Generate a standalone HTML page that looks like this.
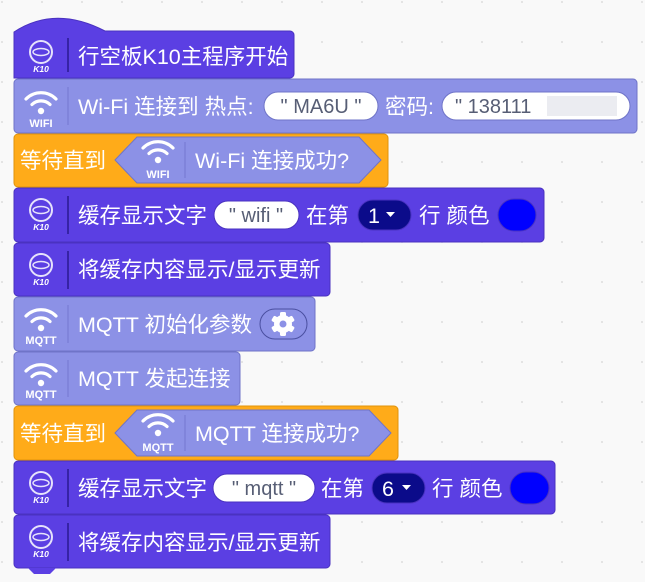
<!DOCTYPE html>
<html><head><meta charset="utf-8"><style>
html,body{margin:0;padding:0;background:#f9f9f9;}
svg{display:block;}
text{font-family:"Liberation Sans","Noto Sans CJK SC",sans-serif;}
.t{font-size:21.5px;fill:#fff;}
.d{font-size:20px;fill:#575e75;}
</style></head><body>
<svg width="645" height="582" viewBox="0 0 645 582" xmlns="http://www.w3.org/2000/svg">
<defs>
<pattern id="dots" width="40" height="40" patternUnits="userSpaceOnUse"><circle cx="2" cy="2" r="1" fill="#ddd"/></pattern>
<g id="k10">
<circle cx="0" cy="0" r="11" fill="none" stroke="#fff" stroke-width="2" opacity="0.85"/>
<ellipse cx="0" cy="0" rx="8" ry="3.5" fill="none" stroke="#fff" stroke-width="1.5" opacity="0.85"/>
<text x="0" y="20" text-anchor="middle" style="font-size:8.5px;font-weight:bold;font-style:italic;fill:#fff">K10</text>
</g>
<g id="wifi">
<path d="M-15,-6 A21,21 0 0 1 15,-6" fill="none" stroke="#fff" stroke-width="3.2" stroke-linecap="round"/>
<path d="M-9,-0.5 A13,13 0 0 1 9,-0.5" fill="none" stroke="#fff" stroke-width="3.2" stroke-linecap="round"/>
<circle cx="0" cy="6" r="3.2" fill="#fff"/>
</g>
</defs>
<rect width="645" height="582" fill="url(#dots)"/>

<!-- 1 hat -->
<path d="M14,78 V32 Q55,5 105,31 H290 a4,4 0 0 1 4,4 V74 a4,4 0 0 1 -4,4 Z" fill="#5b3fe3" stroke="#4a32c0"/>
<use href="#k10" x="41" y="52"/>
<line x1="68" y1="38" x2="68" y2="72" stroke="#2a1a90" stroke-width="1.5"/>
<text class="t" x="78" y="64">行空板K10主程序开始</text>

<!-- 2 wifi connect -->
<rect x="14" y="79" width="623" height="54" rx="4" fill="#8c91e6" stroke="#6f74c8"/>
<use href="#wifi" x="41" y="105"/>
<text x="41" y="127" text-anchor="middle" style="font-size:11px;font-weight:bold;fill:#fff">WIFI</text>
<line x1="68" y1="87" x2="68" y2="125" stroke="#7378d0"/>
<text class="t" x="78" y="114">Wi-Fi 连接到 热点:</text>
<rect x="264" y="92" width="114" height="28" rx="14" fill="#fff" stroke="#6f74c8"/>
<text class="d" x="321" y="113" text-anchor="middle">" MA6U "</text>
<text class="t" x="385" y="114">密码:</text>
<rect x="442" y="92" width="188" height="28" rx="14" fill="#fff" stroke="#6f74c8"/>
<text class="d" x="455" y="113">" 138111</text>
<rect x="547" y="96" width="70" height="20" fill="#ebecf1"/>

<!-- 3 wait wifi -->
<rect x="14" y="134" width="374" height="53" rx="4" fill="#ffab19" stroke="#e0930c"/>
<text class="t" x="20" y="168">等待直到</text>
<path d="M115,160 L137,137 H359 L381,160 L359,183 H137 Z" fill="#8c91e6" stroke="#6f74c8"/>
<use href="#wifi" x="158" y="154"/>
<text x="158" y="178" text-anchor="middle" style="font-size:11px;font-weight:bold;fill:#fff">WIFI</text>
<line x1="185" y1="142" x2="185" y2="178" stroke="#7378d0"/>
<text class="t" x="195" y="168">Wi-Fi 连接成功?</text>

<!-- 4 cache wifi -->
<rect x="14" y="188" width="530" height="54" rx="4" fill="#5b3fe3" stroke="#4a32c0"/>
<use href="#k10" x="41" y="210"/>
<line x1="68" y1="196" x2="68" y2="234" stroke="#2a1a90" stroke-width="1.5"/>
<text class="t" x="78" y="223">缓存显示文字</text>
<rect x="214" y="201" width="85" height="28" rx="14" fill="#fff" stroke="#4a32c0"/>
<text class="d" x="256" y="222" text-anchor="middle">" wifi "</text>
<text class="t" x="306" y="223">在第</text>
<rect x="358" y="200" width="53" height="30" rx="15" fill="#0b0b8a" stroke="#4a32c0"/>
<text class="t" x="368" y="223">1</text>
<path d="M386,212 h9 l-4.5,5 z" fill="#fff"/>
<text class="t" x="419" y="223">行 颜色</text>
<rect x="498" y="199" width="38" height="32" rx="16" fill="#0000ff" stroke="#4a32c0"/>

<!-- 5 refresh -->
<rect x="14" y="243" width="316" height="53" rx="4" fill="#5b3fe3" stroke="#4a32c0"/>
<use href="#k10" x="41" y="265"/>
<line x1="68" y1="251" x2="68" y2="289" stroke="#2a1a90" stroke-width="1.5"/>
<text class="t" x="78" y="277">将缓存内容显示/显示更新</text>

<!-- 6 mqtt init -->
<rect x="14" y="297" width="301" height="54" rx="4" fill="#8c91e6" stroke="#6f74c8"/>
<use href="#wifi" x="41" y="322"/>
<text x="41" y="344" text-anchor="middle" style="font-size:11px;font-weight:bold;fill:#fff">MQTT</text>
<line x1="68" y1="305" x2="68" y2="343" stroke="#7378d0"/>
<text class="t" x="78" y="332">MQTT 初始化参数</text>
<rect x="260" y="309" width="47" height="30" rx="15" fill="#8c91e6" stroke="#4a4fa0"/>
<circle cx="283" cy="324" r="9" fill="#fff"/>
<g fill="#fff"><rect x="280" y="312" width="6" height="24" rx="1.5"/><rect x="280" y="312" width="6" height="24" rx="1.5" transform="rotate(60 283 324)"/><rect x="280" y="312" width="6" height="24" rx="1.5" transform="rotate(120 283 324)"/></g>
<circle cx="283" cy="324" r="3.5" fill="#8c91e6"/>

<!-- 7 mqtt connect -->
<rect x="14" y="352" width="226" height="53" rx="4" fill="#8c91e6" stroke="#6f74c8"/>
<use href="#wifi" x="41" y="377"/>
<text x="41" y="398" text-anchor="middle" style="font-size:11px;font-weight:bold;fill:#fff">MQTT</text>
<line x1="68" y1="360" x2="68" y2="397" stroke="#7378d0"/>
<text class="t" x="78" y="386">MQTT 发起连接</text>

<!-- 8 wait mqtt -->
<rect x="14" y="406" width="384" height="54" rx="4" fill="#ffab19" stroke="#e0930c"/>
<text class="t" x="20" y="441">等待直到</text>
<path d="M115,433 L137,410 H369 L391,433 L369,456 H137 Z" fill="#8c91e6" stroke="#6f74c8"/>
<use href="#wifi" x="158" y="427"/>
<text x="158" y="451" text-anchor="middle" style="font-size:11px;font-weight:bold;fill:#fff">MQTT</text>
<line x1="185" y1="415" x2="185" y2="451" stroke="#7378d0"/>
<text class="t" x="195" y="441">MQTT 连接成功?</text>

<!-- 9 cache mqtt -->
<rect x="14" y="461" width="541" height="53" rx="4" fill="#5b3fe3" stroke="#4a32c0"/>
<use href="#k10" x="41" y="483"/>
<line x1="68" y1="469" x2="68" y2="507" stroke="#2a1a90" stroke-width="1.5"/>
<text class="t" x="78" y="496">缓存显示文字</text>
<rect x="213" y="474" width="102" height="28" rx="14" fill="#fff" stroke="#4a32c0"/>
<text class="d" x="264" y="495" text-anchor="middle">" mqtt "</text>
<text class="t" x="321" y="496">在第</text>
<rect x="372" y="473" width="53" height="30" rx="15" fill="#0b0b8a" stroke="#4a32c0"/>
<text class="t" x="382" y="496">6</text>
<path d="M402,485 h9 l-4.5,5 z" fill="#fff"/>
<text class="t" x="432" y="496">行 颜色</text>
<rect x="510" y="472" width="39" height="32" rx="16" fill="#0000ff" stroke="#4a32c0"/>

<!-- 10 refresh -->
<rect x="14" y="515" width="316" height="53" rx="4" fill="#5b3fe3" stroke="#4a32c0"/>
<use href="#k10" x="41" y="537"/>
<line x1="68" y1="523" x2="68" y2="561" stroke="#2a1a90" stroke-width="1.5"/>
<text class="t" x="78" y="550">将缓存内容显示/显示更新</text>
<path d="M28,568 l6,6 h16 l6,-6 z" fill="#5b3fe3"/>
</svg>
</body></html>
